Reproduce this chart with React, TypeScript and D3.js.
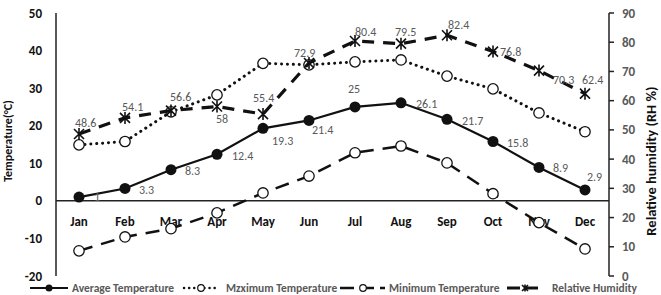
import React, { useEffect, useRef } from 'react';
import * as d3 from 'd3';

const months = ['Jan', 'Feb', 'Mar', 'Apr', 'May', 'Jun', 'Jul', 'Aug', 'Sep', 'Oct', 'Nov', 'Dec'];
const avgTemp = [1, 3.3, 8.3, 12.4, 19.3, 21.4, 25, 26.1, 21.7, 15.8, 8.9, 2.9];
const maxTemp = [14.9, 15.8, 23.7, 28.2, 36.6, 36.2, 37, 37.5, 33.2, 29.8, 23.4, 18.4];
const minTemp = [-13.3, -9.6, -7.4, -3.2, 2.1, 6.6, 12.8, 14.6, 10.1, 1.9, -5.8, -12.8];
const humidity = [48.6, 54.1, 56.6, 58, 55.4, 72.9, 80.4, 79.5, 82.4, 76.8, 70.3, 62.4];
const tempTicks = [-20, -10, 0, 10, 20, 30, 40, 50];
const rhTicks = [0, 10, 20, 30, 40, 50, 60, 70, 80, 90];

const FONT = 'Carlito, Lato, "Open Sans", sans-serif';
const GREY = '#595959';

// label nudges relative to each point: [dx, dy]
const avgLabelShift: [number, number][] = [
  [15, 0], [14, 1], [14, 1], [15, 2], [9, 12], [3, 9], [-7, -18], [15, 1], [15, 1], [14, 1], [14, 0], [2, -13],
];
const rhLabelShift: [number, number][] = [
  [-4, -11], [-3, -11], [-1, -14], [-1, 12], [-10, -16], [-15, -10], [0, -9], [-6, -12], [1, -10], [7, 0], [14, 9], [-3, -14],
];

export default function App() {
  const svgRef = useRef<SVGSVGElement>(null);

  useEffect(() => {
    if (!svgRef.current) return;
    const svg = d3.select(svgRef.current);
    svg.selectAll('*').remove();

    const left = 56;
    const right = 608;
    const top = 13;
    const bottom = 276;

    const x = d3.scaleBand().domain(months).range([left, right]);
    const cx = (m: string) => (x(m) as number) + x.bandwidth() / 2;
    const yL = d3.scaleLinear().domain([-20, 50]).range([bottom, top]);
    const yR = d3.scaleLinear().domain([0, 90]).range([bottom, top]);

    // Left axis
    svg.append('line')
      .attr('x1', left).attr('x2', left).attr('y1', top).attr('y2', bottom)
      .attr('stroke', '#222').attr('stroke-width', 1.5);
    svg.append('g')
      .selectAll('text')
      .data(tempTicks)
      .enter()
      .append('text')
      .attr('x', 42)
      .attr('y', (d) => yL(d))
      .attr('dy', '0.35em')
      .attr('text-anchor', 'end')
      .style('font-family', FONT)
      .style('font-size', '13px')
      .style('font-weight', 'bold')
      .style('fill', '#111')
      .text((d) => d);

    // Right axis
    svg.append('line')
      .attr('x1', 609).attr('x2', 609).attr('y1', top).attr('y2', bottom)
      .attr('stroke', '#222').attr('stroke-width', 1.5);
    const rg = svg.append('g');
    rg.selectAll('line')
      .data(rhTicks)
      .enter()
      .append('line')
      .attr('x1', 609).attr('x2', 614)
      .attr('y1', (d) => yR(d)).attr('y2', (d) => yR(d))
      .attr('stroke', '#222').attr('stroke-width', 1.5);
    rg.selectAll('text')
      .data(rhTicks)
      .enter()
      .append('text')
      .attr('x', 622)
      .attr('y', (d) => yR(d))
      .attr('dy', '0.35em')
      .style('font-family', FONT)
      .style('font-size', '13px')
      .style('font-weight', 'bold')
      .style('fill', GREY)
      .text((d) => d);

    // Zero line and month labels
    svg.append('line')
      .attr('x1', left).attr('x2', 609).attr('y1', yL(0)).attr('y2', yL(0))
      .attr('stroke', '#222').attr('stroke-width', 1.5);
    svg.append('g')
      .selectAll('text')
      .data(months)
      .enter()
      .append('text')
      .attr('x', (d) => cx(d))
      .attr('y', yL(0) + 21)
      .attr('dy', '0.35em')
      .attr('text-anchor', 'middle')
      .style('font-family', FONT)
      .style('font-size', '13px')
      .style('font-weight', 'bold')
      .style('fill', '#111')
      .text((d) => d);

    // Axis titles
    svg.append('text')
      .attr('transform', `translate(12,141) rotate(-90)`)
      .attr('text-anchor', 'middle')
      .style('font-family', FONT)
      .style('font-size', '12px')
      .style('font-weight', 'bold')
      .style('fill', '#111')
      .text('Temperature(°C)');
    svg.append('text')
      .attr('transform', `translate(656,161) rotate(-90)`)
      .attr('text-anchor', 'middle')
      .style('font-family', FONT)
      .style('font-size', '14.5px')
      .style('font-weight', 'bold')
      .style('fill', '#111')
      .text('Relative humidity (RH %)');

    const lineL = d3.line<number>().x((_, i) => cx(months[i])).y((d) => yL(d));
    const lineR = d3.line<number>().x((_, i) => cx(months[i])).y((d) => yR(d));

    const drawStar = (g: d3.Selection<SVGGElement, unknown, null, undefined>, px: number, py: number, s: number) => {
      g.append('path')
        .attr('d', `M${px - s},${py - s}L${px + s},${py + s}M${px - s},${py + s}L${px + s},${py - s}M${px},${py - s * 1.2}L${px},${py + s * 1.2}`)
        .attr('stroke', '#111')
        .attr('stroke-width', 1.6)
        .attr('fill', 'none');
    };

    // Average temperature
    svg.append('path')
      .attr('d', lineL(avgTemp))
      .attr('fill', 'none').attr('stroke', '#111').attr('stroke-width', 2.2);
    svg.append('g').selectAll('circle').data(avgTemp).enter().append('circle')
      .attr('cx', (_, i) => cx(months[i])).attr('cy', (d) => yL(d)).attr('r', 5.5)
      .attr('fill', '#111');

    // Maximum temperature
    svg.append('path')
      .attr('d', lineL(maxTemp))
      .attr('fill', 'none').attr('stroke', '#111').attr('stroke-width', 3)
      .attr('stroke-linecap', 'round').attr('stroke-dasharray', '0.1,5.8');
    svg.append('g').selectAll('circle').data(maxTemp).enter().append('circle')
      .attr('cx', (_, i) => cx(months[i])).attr('cy', (d) => yL(d)).attr('r', 5.2)
      .attr('fill', '#fff').attr('stroke', '#111').attr('stroke-width', 1.3);

    // Minimum temperature
    svg.append('path')
      .attr('d', lineL(minTemp))
      .attr('fill', 'none').attr('stroke', '#111').attr('stroke-width', 2.5)
      .attr('stroke-dasharray', '14,9');
    svg.append('g').selectAll('circle').data(minTemp).enter().append('circle')
      .attr('cx', (_, i) => cx(months[i])).attr('cy', (d) => yL(d)).attr('r', 5.2)
      .attr('fill', '#fff').attr('stroke', '#111').attr('stroke-width', 1.3);

    // Relative humidity (right axis)
    svg.append('path')
      .attr('d', lineR(humidity))
      .attr('fill', 'none').attr('stroke', '#111').attr('stroke-width', 3.2)
      .attr('stroke-dasharray', '12,9');
    const stars = svg.append('g');
    humidity.forEach((d, i) => drawStar(stars, cx(months[i]), yR(d), 5));

    // Data labels
    const labelStyle = (sel: d3.Selection<SVGTextElement, number, SVGGElement, unknown>) =>
      sel.style('font-family', FONT).style('font-size', '12px').style('fill', GREY).attr('dy', '0.35em');

    svg.append('g').selectAll('text').data(avgTemp).enter().append('text')
      .attr('x', (_, i) => cx(months[i]) + avgLabelShift[i][0])
      .attr('y', (d, i) => yL(d) + avgLabelShift[i][1])
      .call(labelStyle)
      .text((d) => d);

    svg.append('g').selectAll('text').data(humidity).enter().append('text')
      .attr('x', (_, i) => cx(months[i]) + rhLabelShift[i][0])
      .attr('y', (d, i) => yR(d) + rhLabelShift[i][1])
      .call(labelStyle)
      .text((d) => d);

    // Legend
    const ly = 288;
    const legend = svg.append('g');
    const legendText = (tx: number, label: string) =>
      legend.append('text')
        .attr('x', tx).attr('y', ly).attr('dy', '0.35em')
        .style('font-family', FONT).style('font-size', '11.5px').style('font-weight', 'bold')
        .style('fill', GREY)
        .text(label);

    legend.append('line').attr('x1', 30).attr('x2', 68).attr('y1', ly).attr('y2', ly)
      .attr('stroke', '#111').attr('stroke-width', 2.2);
    legend.append('circle').attr('cx', 49).attr('cy', ly).attr('r', 3.5).attr('fill', '#111');
    legendText(72, 'Average Temperature');

    legend.append('line').attr('x1', 184).attr('x2', 218).attr('y1', ly).attr('y2', ly)
      .attr('stroke', '#111').attr('stroke-width', 2.5).attr('stroke-linecap', 'round')
      .attr('stroke-dasharray', '0.1,5');
    legend.append('circle').attr('cx', 201).attr('cy', ly).attr('r', 3.3)
      .attr('fill', '#fff').attr('stroke', '#111').attr('stroke-width', 1.2);
    legendText(226, 'Mzximum Temperature');

    legend.append('line').attr('x1', 340).attr('x2', 385).attr('y1', ly).attr('y2', ly)
      .attr('stroke', '#111').attr('stroke-width', 2.3).attr('stroke-dasharray', '14,6');
    legend.append('circle').attr('cx', 363).attr('cy', ly).attr('r', 3.3)
      .attr('fill', '#fff').attr('stroke', '#111').attr('stroke-width', 1.2);
    legendText(389, 'Minimum Temperature');

    legend.append('line').attr('x1', 507).attr('x2', 543).attr('y1', ly).attr('y2', ly)
      .attr('stroke', '#111').attr('stroke-width', 3).attr('stroke-dasharray', '13,5');
    drawStar(legend, 525, ly, 3);
    legendText(552, 'Relative Humidity');
  }, []);

  return (
    <svg
      ref={svgRef}
      width={661}
      height={295}
      style={{ position: 'absolute', left: 0, top: 0, background: '#fff' }}
    />
  );
}
